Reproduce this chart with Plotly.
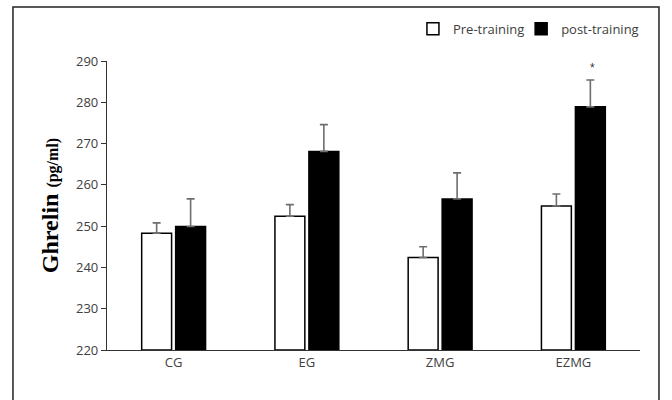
import plotly.graph_objects as go

categories = ["CG", "EG", "ZMG", "EZMG"]
pre_values = [248.3, 252.4, 242.4, 254.9]
post_values = [249.9, 268.1, 256.6, 278.9]
pre_err = [2.5, 2.8, 2.6, 2.9]
post_err = [6.7, 6.5, 6.3, 6.5]
y_ticks = [220, 230, 240, 250, 260, 270, 280, 290]

fig = go.Figure()
fig.add_trace(go.Bar(
    x=categories, y=[v - 220 for v in pre_values], base=220, name="Pre-training",
    marker=dict(color="white", line=dict(color="black", width=1.5)),
    error_y=dict(type="data", array=pre_err, arrayminus=[0]*4, symmetric=False,
                 color="#6e6e6e", thickness=1.6, width=4),
    legend="legend",
))
fig.add_trace(go.Bar(
    x=categories, y=[v - 220 for v in post_values], base=220, name="post-training",
    marker=dict(color="black", line=dict(color="black", width=1.5)),
    error_y=dict(type="data", array=post_err, arrayminus=[0]*4, symmetric=False,
                 color="#6e6e6e", thickness=1.6, width=4),
    legend="legend2",
))

fig.add_annotation(x="EZMG", y=post_values[3] + post_err[3], yanchor="bottom", yshift=3,
                   xshift=19, text="*", showarrow=False,
                   font=dict(size=12, color="#333333", family="Liberation Sans"))

fig.add_shape(type="rect", xref="paper", yref="paper",
              x0=-0.1764, x1=1.0356, y0=-0.2, y1=1.1869,
              line=dict(color="#222222", width=1.5), fillcolor="rgba(0,0,0,0)", layer="below")

tick_font = dict(size=13, color="#404040", family="Open Sans")
legend_font = dict(size=13, color="#404040", family="Open Sans")

fig.update_layout(
    width=672, height=400,
    margin=dict(l=107, r=32, t=61, b=50, autoexpand=False),
    paper_bgcolor="white", plot_bgcolor="white",
    barmode="group", bargap=0.49, bargroupgap=0.12,
    showlegend=True,
    legend=dict(orientation="h", x=0.574, y=1.163, xanchor="left", yanchor="top",
                font=legend_font, bgcolor="rgba(0,0,0,0)", itemwidth=30),
    legend2=dict(orientation="h", x=0.777, y=1.163, xanchor="left", yanchor="top",
                 font=legend_font, bgcolor="rgba(0,0,0,0)", itemwidth=30),
    xaxis=dict(range=[-0.5, 3.5], showline=True, linecolor="#333333", linewidth=1.2,
               ticks="", tickfont=tick_font, showgrid=False, zeroline=False),
    yaxis=dict(range=[220, 290], tickvals=y_ticks, showline=True, linecolor="#333333",
               linewidth=1.2, ticks="outside", ticklen=5, tickcolor="#333333",
               tickfont=tick_font, showgrid=False, zeroline=False,
               title=dict(text="<b>Ghrelin <span style='font-size:16px'>(pg/ml)</span></b>",
                          font=dict(size=24, color="black", family="Liberation Serif"),
                          standoff=10)),
)

fig.write_html("out.html", config={"displayModeBar": False},
               post_script="document.body.style.margin='0px';")
